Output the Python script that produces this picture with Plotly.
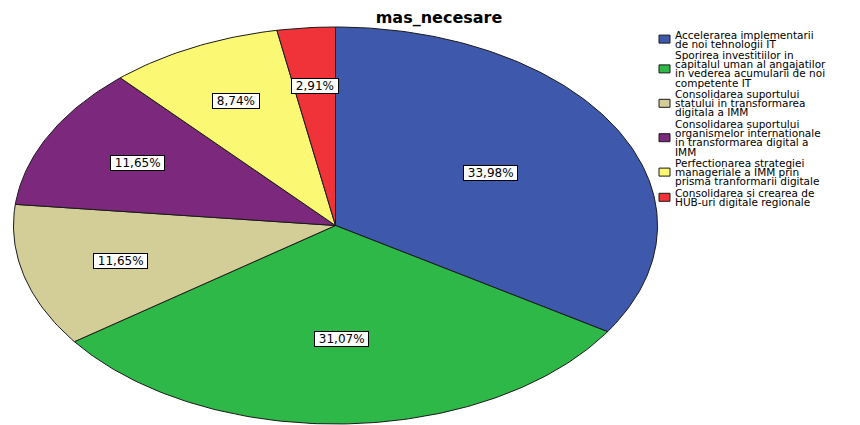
import numpy as np
import plotly.graph_objects as go

# ---------------- data ----------------
categories = [
    "Accelerarea implementarii<br>de noi tehnologii IT",
    "Sporirea investitiilor in<br>capitalul uman al angajatilor<br>in vederea acumularii de noi<br>competente IT",
    "Consolidarea suportului<br>statului in transformarea<br>digitala a IMM",
    "Consolidarea suportului<br>organismelor internationale<br>in transformarea digital a<br>IMM",
    "Perfectionarea strategiei<br>manageriale a IMM prin<br>prisma tranformarii digitale",
    "Consolidarea si crearea de<br>HUB-uri digitale regionale",
]
counts = [35, 32, 12, 12, 9, 3]
colors = ["#3E58AC", "#2EB848", "#D3CE97", "#7C287D", "#FBF873", "#EF3338"]
title_text = "mas_necesare"

# ---------------- layout constants (window pixel space) ----------------
W, H = 860, 425
OFF = 8  # page body margin
CX, CY, RX, RY = 335.5, 225.5, 322.0, 198.5
FONT = "DejaVu Sans"


def px(p):
    return (p - OFF) / W


def py(p):
    return 1 - (p - OFF) / H


total = float(sum(counts))
fractions = [c / total for c in counts]
cum = np.concatenate([[0.0], np.cumsum(fractions)])

fig = go.Figure()
annotations = []
shapes = []

for i, (cat, frac, col) in enumerate(zip(categories, fractions, colors)):
    t0, t1 = 2 * np.pi * cum[i], 2 * np.pi * cum[i + 1]
    n = max(3, int(frac * 400))
    th = np.linspace(t0, t1, n)
    xs = np.concatenate([[CX], CX + RX * np.sin(th), [CX]])
    ys = np.concatenate([[CY], CY - RY * np.cos(th), [CY]])
    fig.add_trace(go.Scatter(
        x=xs, y=ys, mode="lines", fill="toself", fillcolor=col,
        line=dict(color="#1a1a1a", width=1), showlegend=False,
        hoverinfo="text", text=cat.replace("<br>", " "),
    ))
    # label at the sector centroid
    half = (t1 - t0) / 2
    mid = (t0 + t1) / 2
    rf = 1.06 * 2 * np.sin(half) / (3 * half)
    if frac > 0.3:
        rf *= 0.95
    lx = CX + rf * RX * np.sin(mid)
    ly = CY - rf * RY * np.cos(mid)
    pct = f"{frac * 100:.2f}".replace(".", ",") + "%"
    annotations.append(dict(
        x=lx, y=ly, xref="x", yref="y", text="\u00a0" + pct + "\u00a0",
        showarrow=False, font=dict(family=FONT, size=12, color="black"),
        bgcolor="white", bordercolor="black", borderwidth=1, borderpad=0,
        xanchor="center", yanchor="middle",
    ))

# ---------------- manual legend ----------------
LINE = 9.2
GAP = 11.4
y = 34.5
for cat, col in zip(categories, colors):
    lines = cat.split("<br>")
    ys_lines = [y + k * LINE for k in range(len(lines))]
    for txt, yy in zip(lines, ys_lines):
        annotations.append(dict(
            x=px(673), y=py(yy), xref="paper", yref="paper", text=txt,
            showarrow=False, xanchor="left", yanchor="middle",
            font=dict(family=FONT, size=10.5, color="black"),
        ))
    yc = (ys_lines[0] + ys_lines[-1]) / 2
    shapes.append(dict(
        type="rect", xref="paper", yref="paper",
        x0=px(659), x1=px(670), y0=py(yc - 4), y1=py(yc + 4),
        fillcolor=col, line=dict(color="#1a1a1a", width=1),
    ))
    y = ys_lines[-1] + GAP

fig.update_layout(
    width=W, height=H,
    margin=dict(l=0, r=0, t=0, b=0, pad=0),
    paper_bgcolor="white", plot_bgcolor="white",
    xaxis=dict(range=[OFF, W + OFF], visible=False, fixedrange=True),
    yaxis=dict(range=[H + OFF, OFF], visible=False, fixedrange=True),
    title=dict(text=title_text, x=px(439), xanchor="center",
               y=py(17), yanchor="middle",
               font=dict(family=FONT, size=16, color="black", weight="bold")),
    annotations=annotations, shapes=shapes, showlegend=False,
)

fig.write_html("out.html")
